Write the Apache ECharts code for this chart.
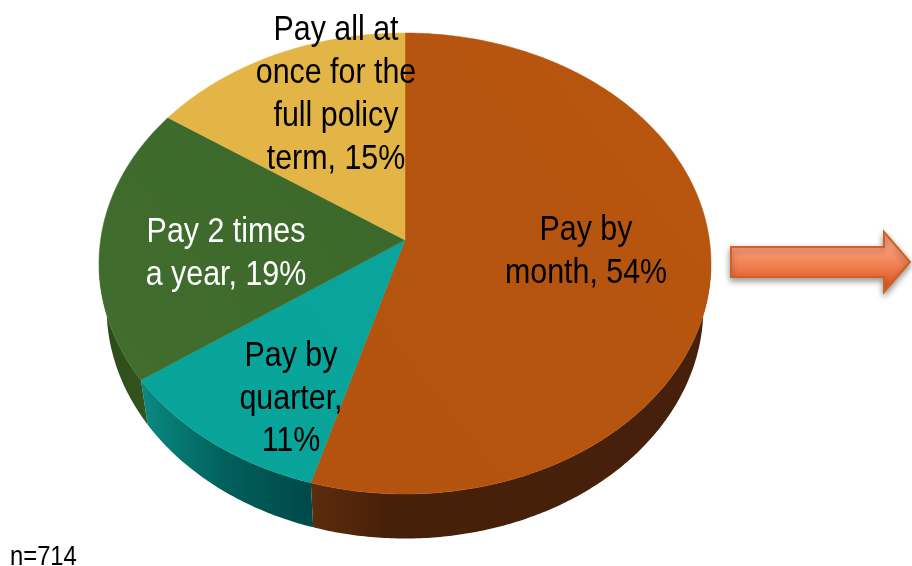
<!DOCTYPE html>
<html>
<head>
<meta charset="utf-8">
<style>html,body{margin:0;padding:0;background:#fff}#c{width:912px;height:566px}</style>
<script src="https://cdn.jsdelivr.net/npm/echarts@6/dist/echarts.min.js"></script>
</head>
<body>
<div id="c"></div>
<script>
var categories = ['Pay by month', 'Pay by quarter', 'Pay 2 times a year', 'Pay all at once for the full policy term'];
var values = [54.5, 10.7, 19.4, 15.4];
var labels = ['Pay by\nmonth, 54%', 'Pay by\nquarter,\n11%', 'Pay 2 times\na year, 19%', 'Pay all at\nonce for the\nfull policy\nterm, 15%'];
var sampleNote = 'n=714';

var labelColors = ['#000', '#000', '#fff', '#000'];
var labelAnchors = [[586, 252], [291, 399], [226, 253.5], [336, 95]];
var topColors = [['#B2520F', '#B8560F'], ['#08A49A', '#0AA49B'], ['#426F30', '#366426'], ['#E4B647', '#E2B345']];
var sideColors = [
  [[0, '#5C2C0B'], [0.2, '#47200A'], [1, '#46200A']],
  [[0, '#0A8A83'], [0.5, '#015F5B'], [1, '#01494A']],
  [[0, '#2B4A1A'], [1, '#33531E']],
  [[0, '#8A6A20'], [1, '#8A6A20']]
];

var CX = 405, CY = 240, BX = 304.4, AY = 228.1, K = 0.102, DEPTH = 44.5, LOWER_SCALE = 0.975, FRONT_Y = 263.5;
var total = values.reduce(function (a, b) { return a + b; }, 0);

function project(theta) {
  var u = Math.sin(theta), v = Math.cos(theta), w = 1 + K * v;
  return [CX + BX * u / w, CY - AY * v / w];
}
function arc(a0, a1) {
  var n = Math.max(4, Math.ceil((a1 - a0) / 0.01)), pts = [];
  for (var i = 0; i <= n; i++) pts.push(project(a0 + (a1 - a0) * i / n));
  return pts;
}
function stops(list) {
  return list.map(function (s) { return { offset: s[0], color: s[1] }; });
}

function renderSlice(params, api) {
  var i = params.dataIndex, before = 0;
  for (var j = 0; j < i; j++) before += values[j];
  var a0 = before / total * 2 * Math.PI;
  var a1 = (before + api.value(0)) / total * 2 * Math.PI;
  var rim = arc(a0, a1);
  var children = [];

  var front = rim.filter(function (p) { return p[1] >= FRONT_Y; });
  if (front.length > 1) {
    var lower = front.map(function (p) {
      return [CX + (p[0] - CX) * LOWER_SCALE, p[1] + DEPTH];
    }).reverse();
    var xs = front.map(function (p) { return p[0]; });
    children.push({
      type: 'polygon', z2: 1,
      shape: { points: front.concat(lower) },
      style: { fill: { type: 'linear', global: true, x: Math.min.apply(null, xs), y: 0,
        x2: Math.max.apply(null, xs), y2: 0, colorStops: stops(sideColors[i]) } }
    });
  }
  children.push({
    type: 'polygon', z2: 2,
    shape: { points: [[CX, CY]].concat(rim) },
    style: {
      fill: { type: 'linear', global: true, x: 100, y: 500, x2: 700, y2: 30,
        colorStops: stops([[0, topColors[i][0]], [1, topColors[i][1]]]) },
      stroke: topColors[i][0], lineWidth: 0.5
    }
  });
  children.push({
    type: 'text', z2: 5,
    x: labelAnchors[i][0], y: labelAnchors[i][1], scaleY: 1.15,
    style: {
      text: labels[i], x: 0, y: 0, fill: labelColors[i],
      font: '30.4px "Liberation Sans", Arial, sans-serif',
      align: 'center', verticalAlign: 'middle', lineHeight: 37.2
    }
  });
  return { type: 'group', children: children };
}

var chart = echarts.init(document.getElementById('c'), null, { renderer: 'canvas' });
chart.setOption({
  animation: false,
  backgroundColor: '#fff',
  series: [{
    type: 'custom',
    coordinateSystem: 'none',
    data: categories.map(function (c, i) { return { name: c, value: [values[i]] }; }),
    renderItem: renderSlice,
    silent: true
  }],
  graphic: [
    {
      type: 'polygon', z: 10,
      shape: { points: [[731, 247], [884, 247], [884, 232], [910, 262], [884, 292], [884, 277], [731, 277]] },
      style: {
        fill: { type: 'linear', x: 0, y: 0, x2: 0, y2: 1, colorStops: [
          { offset: 0.22, color: '#FFA584' }, { offset: 0.78, color: '#E5662F' }] },
        stroke: '#D2601F', lineWidth: 2, lineJoin: 'miter',
        shadowColor: 'rgba(0,0,0,0.4)', shadowBlur: 6, shadowOffsetY: 3
      }
    },
    {
      type: 'text', z: 10, x: 10, y: 571, scaleY: 1.15,
      style: { text: sampleNote, x: 0, y: 0, fill: '#000',
        font: '23.8px "Liberation Sans", Arial, sans-serif', align: 'left', verticalAlign: 'bottom' }
    }
  ]
});
</script>
</body>
</html>
